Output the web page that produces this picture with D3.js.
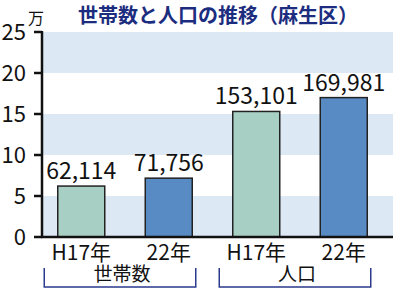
<!DOCTYPE html>
<html>
<head>
<meta charset="utf-8">
<script src="https://cdn.jsdelivr.net/npm/d3@7"></script>
<style>
html, body {
  margin: 0;
  padding: 0;
  background: #fff;
}
text {
  font-family: 'Noto Sans CJK JP', 'Noto Sans', sans-serif;
}
</style>
</head>
<body>
<svg id="chart"></svg>
<script>
const categories = ['H17年', '22年', 'H17年', '22年'];
const values = [62114, 71756, 153101, 169981];
const labels = ['62,114', '71,756', '153,101', '169,981'];
const groups = ['世帯数', '世帯数', '人口', '人口'];
const groupNames = ['世帯数', '人口'];
const yTicks = [0, 5, 10, 15, 20, 25];

const width = 400, height = 293;
const svg = d3.select('#chart').attr('width', width).attr('height', height);

const axisX = 42;
const plotRight = 393;
const y = d3.scaleLinear().domain([0, 25]).range([237, 32]);
const x = d3.scaleBand().domain(d3.range(categories.length))
  .range([37.5, 387.5]).paddingInner(0.46).paddingOuter(0.23);

const colors = ['#a8cfc3', '#588bc3', '#a8cfc3', '#588bc3'];

// background bands (every other 5-unit step)
for (let i = 0; i < yTicks.length - 1; i += 2) {
  svg.append('rect')
    .attr('x', axisX)
    .attr('y', y(yTicks[i + 1]))
    .attr('width', plotRight - axisX)
    .attr('height', y(yTicks[i]) - y(yTicks[i + 1]))
    .attr('fill', '#dce9f5');
}

// bars
const bw = 47;
categories.forEach((c, i) => {
  const cx = x(i) + x.bandwidth() / 2;
  const v = values[i] / 10000;
  svg.append('rect')
    .attr('x', cx - bw / 2)
    .attr('y', y(v))
    .attr('width', bw)
    .attr('height', y(0) - y(v))
    .attr('fill', colors[i])
    .attr('stroke', '#222')
    .attr('stroke-width', 1.5);
  svg.append('text')
    .attr('x', cx)
    .attr('y', y(v) - 7)
    .attr('text-anchor', 'middle')
    .attr('font-size', 23)
    .attr('fill', '#111')
    .text(labels[i]);
  svg.append('text')
    .attr('x', cx)
    .attr('y', 260)
    .attr('text-anchor', 'middle')
    .attr('font-size', 21)
    .attr('fill', '#111')
    .text(c);
});

// axes
svg.append('line')
  .attr('x1', axisX).attr('x2', axisX)
  .attr('y1', y(25) - 1).attr('y2', y(0))
  .attr('stroke', '#111').attr('stroke-width', 2.5);
svg.append('line')
  .attr('x1', axisX - 1).attr('x2', plotRight)
  .attr('y1', y(0)).attr('y2', y(0))
  .attr('stroke', '#111').attr('stroke-width', 2.5);

yTicks.forEach(t => {
  svg.append('line')
    .attr('x1', axisX - 8).attr('x2', axisX)
    .attr('y1', y(t)).attr('y2', y(t))
    .attr('stroke', '#111').attr('stroke-width', 2.5);
  svg.append('text')
    .attr('x', 26)
    .attr('y', y(t))
    .attr('dy', '0.36em')
    .attr('text-anchor', 'end')
    .attr('font-size', 22)
    .attr('fill', '#111')
    .text(t);
});

svg.append('text')
  .attr('x', 28).attr('y', 24)
  .attr('font-size', 16)
  .attr('fill', '#111')
  .text('万');

// title
svg.append('text')
  .attr('x', 218).attr('y', 23)
  .attr('text-anchor', 'middle')
  .attr('font-size', 20)
  .attr('font-weight', 'bold')
  .attr('fill', '#1c2d80')
  .text('世帯数と人口の推移（麻生区）');

// group brackets
groupNames.forEach(g => {
  const idx = d3.range(categories.length).filter(i => groups[i] === g);
  const c0 = x(idx[0]) + x.bandwidth() / 2;
  const c1 = x(idx[idx.length - 1]) + x.bandwidth() / 2;
  const left = c0 - 37, right = c1 + 27;
  svg.append('path')
    .attr('d', `M${left},268V287H${right}V268`)
    .attr('fill', 'none')
    .attr('stroke', '#2a3a8c')
    .attr('stroke-width', 1.5);
  svg.append('text')
    .attr('x', (c0 + c1) / 2 - 3)
    .attr('y', 281)
    .attr('text-anchor', 'middle')
    .attr('font-size', 19)
    .attr('fill', '#111')
    .text(g);
});
</script>
</body>
</html>
